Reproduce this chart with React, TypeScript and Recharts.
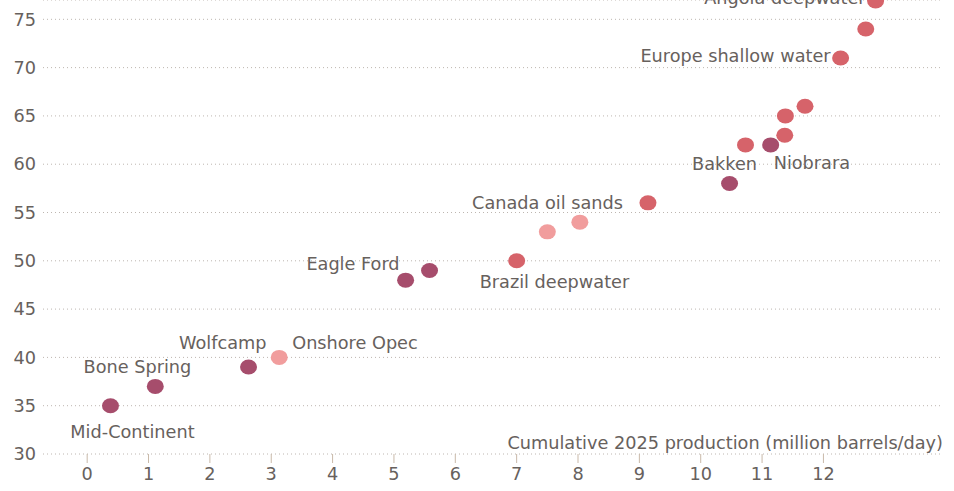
import React from 'react';
import { ScatterChart, Scatter, XAxis, YAxis, CartesianGrid } from 'recharts';

const regionNames = [
  'Mid-Continent', 'Bone Spring', 'Wolfcamp', 'Onshore Opec', 'Eagle Ford', '',
  'Brazil deepwater', '', '', 'Canada oil sands', 'Bakken', '', 'Niobrara',
  '', '', '', 'Europe shallow water', '', 'Angola deepwater',
];
const production = [
  0.38, 1.11, 2.63, 3.13, 5.19, 5.58, 7.0, 7.5, 8.03, 9.14, 10.47, 10.73, 11.14,
  11.37, 11.38, 11.7, 12.28, 12.69, 12.85,
];
const breakeven = [35, 37, 39, 40, 48, 49, 50, 53, 54, 56, 58, 62, 62, 63, 65, 66, 71, 74, 76.9];
const regionTypes = [
  'shale', 'shale', 'shale', 'light', 'shale', 'shale', 'other', 'light', 'light', 'other',
  'shale', 'other', 'shale', 'other', 'other', 'other', 'other', 'other', 'other',
];
const xTicks = [0, 1, 2, 3, 4, 5, 6, 7, 8, 9, 10, 11, 12];
const yTicks = [30, 35, 40, 45, 50, 55, 60, 65, 70, 75];
const xAxisTitle = 'Cumulative 2025 production (million barrels/day)';

const data = production.map((x, i) => ({
  x,
  y: breakeven[i],
  name: regionNames[i],
  type: regionTypes[i],
}));

const COLORS: Record<string, string> = {
  shale: '#a64d6c',
  other: '#d6636a',
  light: '#f19d9d',
};

const LABEL_PLACEMENT: Record<string, { dx: number; dy: number; anchor: string }> = {
  'Mid-Continent': { dx: 22, dy: 26, anchor: 'middle' },
  'Bone Spring': { dx: 36, dy: -19, anchor: 'end' },
  Wolfcamp: { dx: 18, dy: -24, anchor: 'end' },
  'Onshore Opec': { dx: 13, dy: -14, anchor: 'start' },
  'Eagle Ford': { dx: -6, dy: -16, anchor: 'end' },
  'Brazil deepwater': { dx: -37, dy: 21, anchor: 'start' },
  'Canada oil sands': { dx: -25, dy: 0, anchor: 'end' },
  Bakken: { dx: -5, dy: -20, anchor: 'middle' },
  Niobrara: { dx: 3, dy: 18, anchor: 'start' },
  'Europe shallow water': { dx: -10, dy: -2, anchor: 'end' },
  'Angola deepwater': { dx: -10, dy: -3, anchor: 'end' },
};

const FONT = '"DejaVu Sans", sans-serif';
const FONT_SIZE = 17.7;
const TEXT_COLOR = '#67615d';

const Dot = (props: any) => {
  const { cx, cy, payload } = props;
  const place = payload.name ? LABEL_PLACEMENT[payload.name] : null;
  return (
    <g>
      <ellipse cx={cx} cy={cy} rx={8.5} ry={7.5} fill={COLORS[payload.type]} />
      {place && (
        <text
          x={cx + place.dx}
          y={cy + place.dy}
          textAnchor={place.anchor as any}
          dominantBaseline="central"
          fontFamily={FONT}
          fontSize={FONT_SIZE}
          fill={TEXT_COLOR}
        >
          {payload.name}
        </text>
      )}
    </g>
  );
};

const AxisTitle = (props: any) => {
  const vb = props.viewBox || { x: 43, y: 454, width: 897, height: 37 };
  return (
    <text
      x={vb.x + vb.width + 3}
      y={vb.y - 11}
      textAnchor="end"
      dominantBaseline="central"
      fontFamily={FONT}
      fontSize={FONT_SIZE}
      fill={TEXT_COLOR}
    >
      {xAxisTitle}
    </text>
  );
};

export default function App() {
  return (
    <div style={{ position: 'absolute', left: 0, top: 0, background: '#fff' }}>
      <ScatterChart width={954} height={491} margin={{ top: 0, right: 14, bottom: 0, left: 0 }}>
        <CartesianGrid vertical={false} stroke="#bdb6b0" strokeDasharray="1 3" />
        <XAxis
          type="number"
          dataKey="x"
          domain={[-0.72, 13.9]}
          ticks={xTicks}
          height={37}
          axisLine={false}
          tickLine={{ stroke: '#c9b9a9' }}
          tickSize={9}
          tickMargin={4}
          tick={{ fill: TEXT_COLOR, fontFamily: FONT, fontSize: FONT_SIZE }}
          label={{ content: AxisTitle }}
        />
        <YAxis
          type="number"
          dataKey="y"
          domain={[30, 77]}
          ticks={yTicks}
          width={43}
          axisLine={false}
          tickLine={false}
          tickSize={0}
          tickMargin={7}
          tick={{ fill: TEXT_COLOR, fontFamily: FONT, fontSize: FONT_SIZE }}
        />
        <Scatter data={data} shape={Dot} isAnimationActive={false} />
      </ScatterChart>
    </div>
  );
}
